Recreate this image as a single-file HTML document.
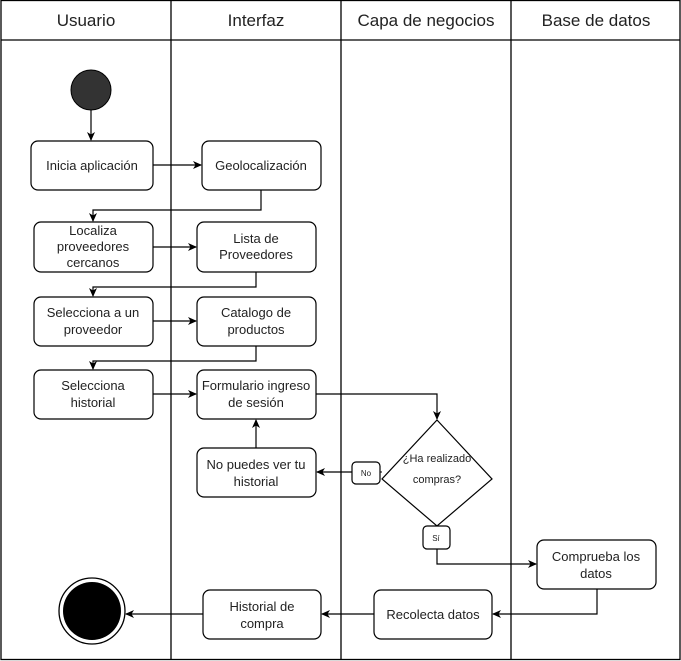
<!DOCTYPE html>
<html><head><meta charset="utf-8"><style>body{margin:0;background:#fff}svg{display:block}text{font-family:"Liberation Sans",sans-serif;fill:#222}</style></head><body>
<svg width="681" height="661" viewBox="0 0 681 661">
<defs><marker id="a" markerWidth="10" markerHeight="10" refX="8" refY="5" orient="auto" markerUnits="userSpaceOnUse"><path d="M0,1 L9,5 L0,9 L2.5,5 Z" fill="#000"/></marker></defs>
<g stroke="#000" fill="none" stroke-width="1.3">
<rect x="1" y="0.5" width="679" height="659"/>
<line x1="1" y1="40" x2="680" y2="40"/>
<line x1="171" y1="0" x2="171" y2="660"/>
<line x1="341" y1="0" x2="341" y2="660"/>
<line x1="511" y1="0" x2="511" y2="660"/>
</g>
<g font-size="17" text-anchor="middle"><text x="86" y="26">Usuario</text><text x="256" y="26">Interfaz</text><text x="426" y="26">Capa de negocios</text><text x="596" y="26">Base de datos</text></g>
<circle cx="91" cy="90" r="20" fill="#333" stroke="#000"/>
<circle cx="92" cy="611" r="33" fill="#fff" stroke="#000" stroke-width="1.3"/>
<circle cx="92" cy="611" r="29" fill="#000"/>
<g stroke="#000" fill="#fff" stroke-width="1.2">
<rect x="31" y="141" width="122" height="49" rx="7"/>
<rect x="202" y="141" width="119" height="49" rx="7"/>
<rect x="34" y="222" width="119" height="50" rx="7"/>
<rect x="197" y="222" width="119" height="50" rx="7"/>
<rect x="34" y="297" width="119" height="49" rx="7"/>
<rect x="197" y="297" width="119" height="49" rx="7"/>
<rect x="34" y="370" width="119" height="49" rx="7"/>
<rect x="197" y="370" width="119" height="49" rx="7"/>
<rect x="197" y="448" width="119" height="49" rx="7"/>
<path d="M437,420 L492,479 L437,526 L382,479 Z"/>
<rect x="352" y="462" width="28" height="22" rx="4"/>
<rect x="423" y="526" width="27" height="23" rx="4"/>
<rect x="537" y="540" width="119" height="49" rx="7"/>
<rect x="374" y="590" width="118" height="49" rx="7"/>
<rect x="203" y="590" width="118" height="49" rx="7"/>
</g>
<g stroke="#000" fill="none" stroke-width="1.2" marker-end="url(#a)">
<path d="M91,110 V140"/>
<path d="M153,165 H201"/>
<path d="M261,190 V210 H93 V221"/>
<path d="M153,247 H196"/>
<path d="M256,272 V287 H93 V296"/>
<path d="M153,321 H196"/>
<path d="M256,346 V361 H93 V369"/>
<path d="M153,394 H196"/>
<path d="M316,394 H437 V419"/>
<path d="M352,472 H317"/>
<path d="M256,448 V420"/>
<path d="M437,549 V564 H536"/>
<path d="M597,589 V614 H493"/>
<path d="M374,614 H322"/>
<path d="M203,614 H126"/>
</g>
<path d="M382,472 H380" stroke="#000"/>
<g font-size="13" text-anchor="middle">
<text x="92" y="170">Inicia aplicación</text>
<text x="261" y="170">Geolocalización</text>
<text x="93" y="235">Localiza</text><text x="93" y="251">proveedores</text><text x="93" y="267">cercanos</text>
<text x="256" y="243">Lista de</text><text x="256" y="259">Proveedores</text>
<text x="93" y="317">Selecciona a un</text><text x="93" y="334">proveedor</text>
<text x="256" y="317">Catalogo de</text><text x="256" y="334">productos</text>
<text x="93" y="390">Selecciona</text><text x="93" y="407">historial</text>
<text x="256" y="390">Formulario ingreso</text><text x="256" y="407">de sesión</text>
<text x="256" y="469">No puedes ver tu</text><text x="256" y="486">historial</text>
<text x="596" y="561">Comprueba los</text><text x="596" y="578">datos</text>
<text x="433" y="619">Recolecta datos</text>
<text x="262" y="611">Historial de</text><text x="262" y="628">compra</text>
</g>
<g font-size="11" text-anchor="middle"><text x="437" y="462">¿Ha realizado</text><text x="437" y="483">compras?</text></g>
<g font-size="8" text-anchor="middle"><text x="366" y="476">No</text><text x="436" y="541">Sí</text></g>
</svg>
</body></html>
